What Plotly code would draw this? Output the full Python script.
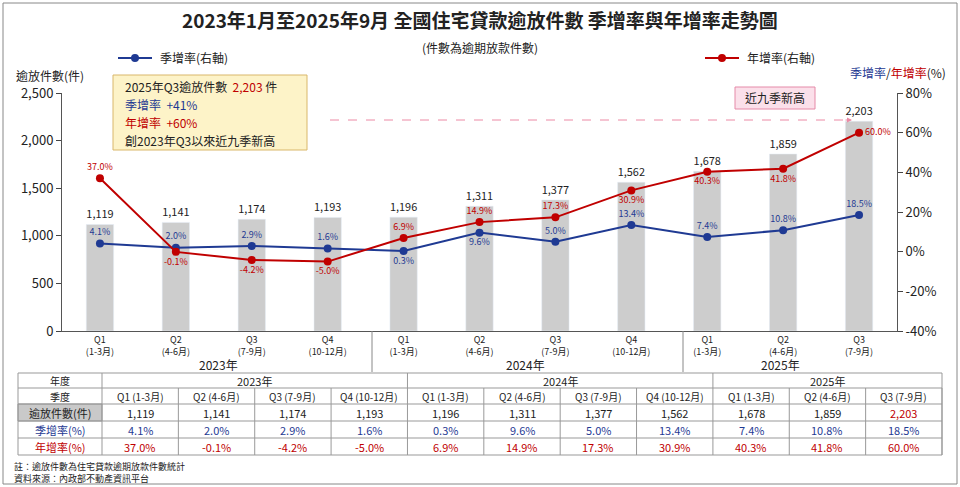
import plotly.graph_objects as go

quarters = ["Q1<br>(1-3月)", "Q2<br>(4-6月)", "Q3<br>(7-9月)", "Q4<br>(10-12月)"] * 2 + ["Q1<br>(1-3月)", "Q2<br>(4-6月)", "Q3<br>(7-9月)"]
quarter_tbl = ["Q1 (1-3月)", "Q2 (4-6月)", "Q3 (7-9月)", "Q4 (10-12月)"] * 2 + ["Q1 (1-3月)", "Q2 (4-6月)", "Q3 (7-9月)"]
years = ["2023年", "2024年", "2025年"]
counts = [1119, 1141, 1174, 1193, 1196, 1311, 1377, 1562, 1678, 1859, 2203]
qoq = [4.1, 2.0, 2.9, 1.6, 0.3, 9.6, 5.0, 13.4, 7.4, 10.8, 18.5]
yoy = [37.0, -0.1, -4.2, -5.0, 6.9, 14.9, 17.3, 30.9, 40.3, 41.8, 60.0]
left_ticks = [0, 500, 1000, 1500, 2000, 2500]
right_ticks = [-40, -20, 0, 20, 40, 60, 80]
qoq_pos = ["top center"] * 4 + ["bottom center", "bottom center"] + ["top center"] * 5
yoy_pos = ["top center", "bottom center", "bottom center", "bottom center", "top center", "top center", "top center",
           "bottom center", "bottom center", "bottom center", "middle right"]

W, H = 960, 487
def px(x): return x / W
def py(y): return 1 - y / H

BLUE = "#1f3a93"
RED = "#c00000"
FONT = "Noto Sans CJK TC"
n = len(counts)
xs = list(range(n))

fig = go.Figure()
fig.add_bar(x=xs, y=counts, marker=dict(color="#cdcdcd"), width=0.36,
            text=[f"{v:,}" for v in counts], textposition="outside",
            textfont=dict(size=11, color="#222"), cliponaxis=False, showlegend=False)
fig.add_scatter(x=xs, y=qoq, yaxis="y2", mode="lines+markers+text", line=dict(color=BLUE, width=2),
                marker=dict(size=8, color=BLUE), text=[f"{v:.1f}%" for v in qoq], textposition=qoq_pos,
                textfont=dict(size=9, color=BLUE), cliponaxis=False, showlegend=False)
fig.add_scatter(x=xs, y=yoy, yaxis="y2", mode="lines+markers+text", line=dict(color=RED, width=2),
                marker=dict(size=8, color=RED), text=[f"{v:.1f}%" for v in yoy], textposition=yoy_pos,
                textfont=dict(size=9, color=RED), cliponaxis=False, showlegend=False)

XD = [px(62), px(897)]
YD = [py(331), py(93)]
fig.update_layout(
    width=W, height=H, margin=dict(l=0, r=0, t=0, b=0, autoexpand=False), plot_bgcolor="white", paper_bgcolor="white",
    font=dict(family=FONT, color="#222"),
    xaxis=dict(domain=XD, tickmode="array", tickvals=xs, ticktext=quarters, range=[-0.5, n - 0.5],
               tickfont=dict(size=9), showline=True, linecolor="#555", ticks="", automargin=False),
    yaxis=dict(domain=YD, range=[0, 2500], tickmode="array", tickvals=left_ticks,
               ticktext=[f"{v:,}" for v in left_ticks], automargin=False,
               showgrid=False, showline=True, linecolor="#555", ticks="outside", ticklen=5,
               tickfont=dict(size=13), zeroline=False),
    yaxis2=dict(overlaying="y", side="right", range=[-40, 80], tickmode="array", tickvals=right_ticks,
                ticktext=[f"{v}%" for v in right_ticks], automargin=False,
                showgrid=False, showline=True, linecolor="#555", ticks="outside", ticklen=5,
                tickfont=dict(size=13), zeroline=False),
)

shapes, ann = [], []
def text(x, y, s, size=11, color="#222", bold=False, xanchor="center"):
    ann.append(dict(xref="paper", yref="paper", x=px(x), y=py(y), text=f"<b>{s}</b>" if bold else s,
                    showarrow=False, font=dict(size=size, color=color, family=FONT), xanchor=xanchor, yanchor="middle"))
def rect(x0, y0, x1, y1, fill=None, line="#999", width=1, dash=None):
    shapes.append(dict(type="rect", xref="paper", yref="paper", x0=px(x0), x1=px(x1), y0=py(y1), y1=py(y0),
                       fillcolor=fill or "rgba(0,0,0,0)", line=dict(color=line, width=width, dash=dash), layer="below" if fill else "above"))
def line(x0, y0, x1, y1, color="#999", width=1, dash=None):
    shapes.append(dict(type="line", xref="paper", yref="paper", x0=px(x0), x1=px(x1), y0=py(y0), y1=py(y1),
                       line=dict(color=color, width=width, dash=dash)))

# border
rect(3, 3, 957, 484, line="#888", width=1)
text(480, 20, "2023年1月至2025年9月 全國住宅貸款逾放件數 季增率與年增率走勢圖", size=19, bold=True)
text(480, 47, "(件數為逾期放款件數)", size=12)
# legends
line(118, 58, 152, 58, BLUE, 2)
shapes.append(dict(type="circle", xref="paper", yref="paper", x0=px(132), x1=px(138), y0=py(61), y1=py(55), fillcolor=BLUE, line=dict(color=BLUE)))
text(158, 58, "季增率(右軸)", size=12, xanchor="left")
line(705, 58, 739, 58, RED, 2)
shapes.append(dict(type="circle", xref="paper", yref="paper", x0=px(719), x1=px(725), y0=py(61), y1=py(55), fillcolor=RED, line=dict(color=RED)))
text(745, 58, "年增率(右軸)", size=12, xanchor="left")
text(14, 75, "逾放件數(件)", size=12, xanchor="left")
text(948, 73, f"<span style='color:{BLUE}'>季增率</span>/<span style='color:{RED}'>年增率</span>(%)", size=12, xanchor="right")
# info box
rect(113, 75, 307, 150, fill="#fdf3c8", line="#d9b76a")
text(123, 86, f"2025年Q3逾放件數  <span style='color:{RED}'>2,203</span> 件", size=12, xanchor="left")
text(123, 104, f"<span style='color:{BLUE}'>季增率  +41%</span>", size=12, xanchor="left")
text(123, 122, f"<span style='color:{RED}'>年增率  +60%</span>", size=12, xanchor="left")
text(123, 140, "創2023年Q3以來近九季新高", size=12, xanchor="left")
# pink callout
rect(735, 87, 815, 109, fill="#fbe0ea", line="#e58aa8")
text(775, 98, "近九季新高", size=12)
line(330, 120, 846, 120, "#ec8aa5", 1, "dash")
ann.append(dict(xref="paper", yref="paper", ax=-8, ay=0, x=px(852), y=py(120), showarrow=True,
                arrowhead=2, arrowcolor="#ec8aa5", arrowwidth=1, text=""))
# year groups
line(372, 331, 372, 372, "#888"); line(683, 331, 683, 372, "#888")
text(218, 364, years[0], size=12); text(525, 364, years[1], size=12); text(780, 364, years[2], size=12)

# table
tx0, tx1 = 18, 942
c0 = 102
edges = [c0 + i * (tx1 - c0) / n for i in range(n + 1)]
rows = [373, 388, 404, 421, 438, 455]
rect(tx0, rows[2], c0, rows[3], fill="#c9c9c9", line="#999")
for y in rows:
    line(tx0, y, tx1, y, "#999")
line(tx0, rows[0], tx0, rows[-1]); line(tx1, rows[0], tx1, rows[-1])
for i, e in enumerate(edges):
    top = rows[0] if i in (0, 4, 8) else rows[1]
    line(e, top, e, rows[-1])
labels = ["年度", "季度", "逾放件數(件)", "季增率(%)", "年增率(%)"]
lcol = ["#222", "#222", "#222", BLUE, RED]
for r in range(5):
    text((tx0 + c0) / 2, (rows[r] + rows[r + 1]) / 2, labels[r], size=10 if r < 2 else 11, color=lcol[r])
for g, (a, b) in enumerate([(0, 4), (4, 8), (8, 11)]):
    text((edges[a] + edges[b]) / 2, (rows[0] + rows[1]) / 2, years[g], size=11)
for i in range(n):
    cx = (edges[i] + edges[i + 1]) / 2
    text(cx, (rows[1] + rows[2]) / 2, quarter_tbl[i], size=10)
    text(cx, (rows[2] + rows[3]) / 2, f"{counts[i]:,}", size=11, color=RED if i == n - 1 else "#222")
    text(cx, (rows[3] + rows[4]) / 2, f"{qoq[i]:.1f}%", size=11, color=BLUE)
    text(cx, (rows[4] + rows[5]) / 2, f"{yoy[i]:.1f}%", size=11, color=RED)
text(12, 466, "註：逾放件數為住宅貸款逾期放款件數統計", size=9, xanchor="left")
text(12, 478, "資料來源：內政部不動產資訊平台", size=9, xanchor="left")

fig.update_layout(shapes=shapes, annotations=ann)
fig.write_html("out.html", config={"displayModeBar": False},
               post_script="document.body.style.margin='0';document.body.style.overflow='hidden';")
